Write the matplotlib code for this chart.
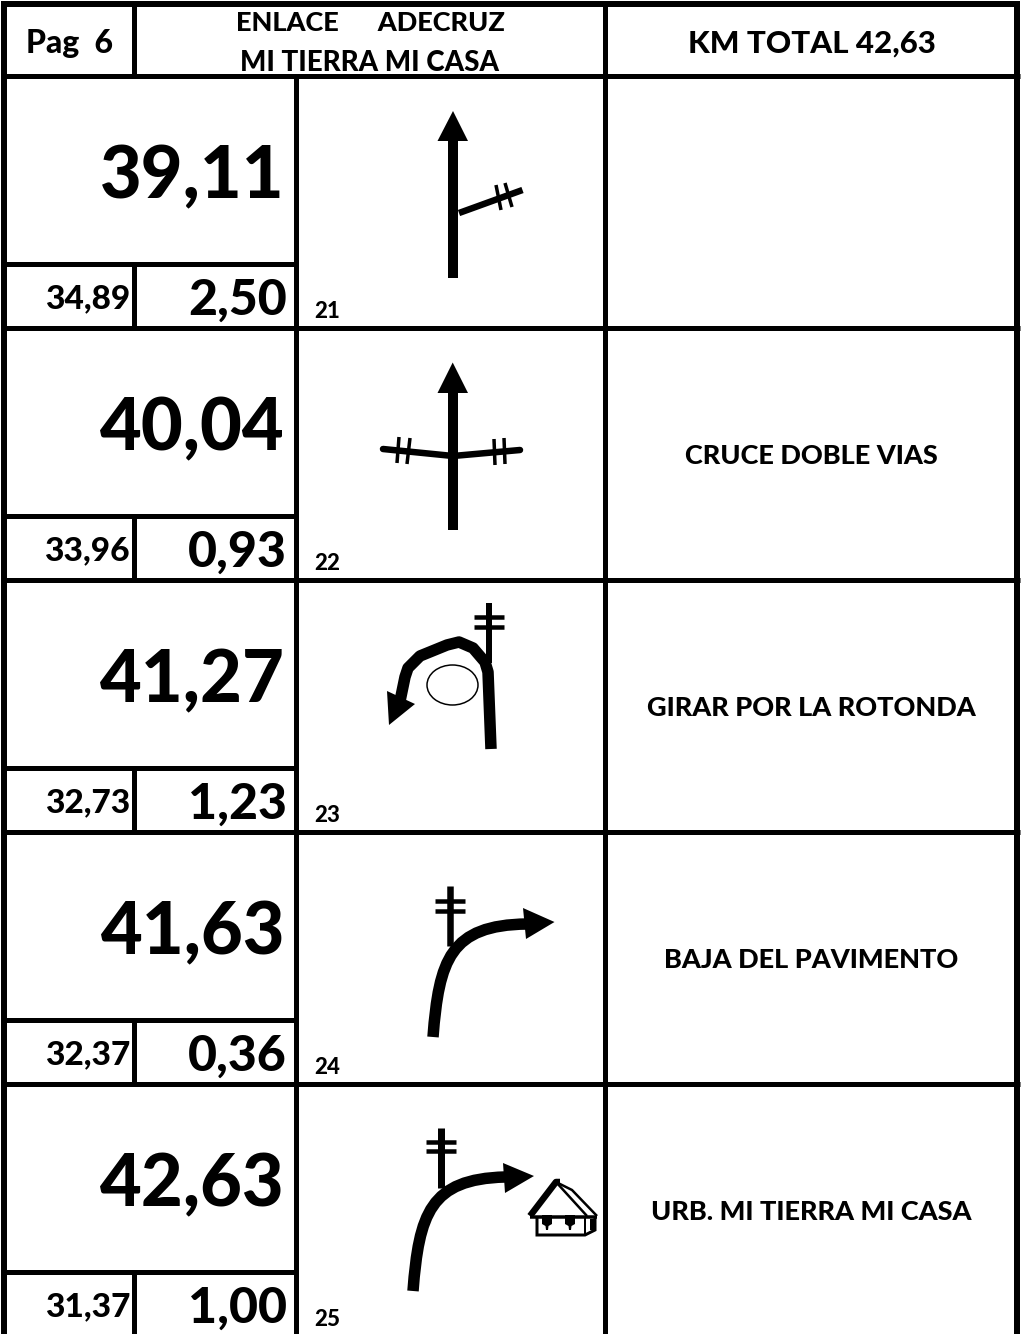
import matplotlib
matplotlib.use("Agg")
import matplotlib.pyplot as plt
from matplotlib.path import Path
from matplotlib.patches import PathPatch, Polygon, Ellipse

plt.rcParams['font.family'] = ['Lato', 'DejaVu Sans']

# ---- data ----
page_label = "Pag  6"
title_lines = ["ENLACE      ADECRUZ", "MI TIERRA MI CASA"]
total_label = "KM TOTAL 42,63"
km_totals = ["39,11", "40,04", "41,27", "41,63", "42,63"]
km_remaining = ["34,89", "33,96", "32,73", "32,37", "31,37"]
km_partial = ["2,50", "0,93", "1,23", "0,36", "1,00"]
step_numbers = ["21", "22", "23", "24", "25"]
descriptions = ["", "CRUCE DOBLE VIAS", "GIRAR POR LA ROTONDA",
                "BAJA DEL PAVIMENTO", "URB. MI TIERRA MI CASA"]

W, H = 1022, 1334
fig = plt.figure(figsize=(W / 100, H / 100), dpi=100, facecolor="white")
ax = fig.add_axes([0, 0, 1, 1])
ax.set_xlim(0, W)
ax.set_ylim(H, 0)
ax.axis("off")

PX = 72 / 100  # points per pixel
HEAVY = 900


def line(xs, ys, w, cap="butt", join="miter"):
    ax.plot(xs, ys, color="black", lw=w * PX, solid_capstyle=cap,
            solid_joinstyle=join, zorder=3)


def tri(pts):
    ax.add_patch(Polygon(pts, closed=True, fc="black", ec="none", zorder=4))


def curve(verts, codes, w):
    ax.add_patch(PathPatch(Path(verts, codes), fc="none", ec="black",
                           lw=w * PX, capstyle="butt", joinstyle="round", zorder=3))


def pole(x, y0, y1, bars, half=15, w=6):
    line([x, x], [y0, y1], w)
    for b in bars:
        line([x - half, x + half], [b, b], 4.5)


# ---- table grid ----
ROW0, ROW_H = 76, 252
GRID_W = 5
row_tops = [ROW0 + ROW_H * i for i in range(len(km_totals))]
line([1.5, 1019.5], [4, 4], 6)
line([4, 4], [1, H], 6)
line([1017, 1017], [1, H], 6)
line([605, 605], [1, H], GRID_W)
line([134, 134], [4, 76], GRID_W)
line([1.5, 1019.5], [76, 76], GRID_W)
for t in row_tops:
    line([1.5, 1019.5], [t + ROW_H, t + ROW_H], GRID_W)
    line([296, 296], [t, t + ROW_H], GRID_W)
    line([4, 296], [t + 188, t + 188], GRID_W)
    line([134, 134], [t + 188, t + ROW_H], GRID_W)

# ---- header ----
ax.text(70, 53, page_label, ha="center", va="baseline", fontsize=23, fontweight=HEAVY)
ax.text(370, 31, title_lines[0], ha="center", va="baseline", fontsize=19.5, fontweight=HEAVY)
ax.text(370, 71, title_lines[1], ha="center", va="baseline", fontsize=20, fontweight=HEAVY)
ax.text(812, 53, total_label, ha="center", va="baseline", fontsize=22.5, fontweight=HEAVY)

# ---- rows ----
for t, tot, rem, par, num, desc in zip(row_tops, km_totals, km_remaining,
                                       km_partial, step_numbers, descriptions):
    ax.text(285, t + 122, tot, ha="right", va="baseline", fontsize=52, fontweight=HEAVY)
    ax.text(130, t + 232, rem, ha="right", va="baseline", fontsize=24, fontweight=HEAVY)
    ax.text(287, t + 239, par, ha="right", va="baseline", fontsize=36, fontweight=HEAVY)
    ax.text(314, t + 242, num, ha="left", va="baseline", fontsize=16, fontweight=HEAVY)
    ax.text(811, t + 136, desc, ha="center", va="baseline", fontsize=19.5, fontweight=HEAVY)

# ---- step 21 ----
line([453, 453], [278, 140], 10)
tri([(453, 111), (437.5, 141), (468, 141)])
line([459, 522.5], [213, 190], 6.5)
line([496, 501], [185, 210], 3.5)
line([505, 512], [183, 207], 3.5)

# ---- step 22 ----
line([453, 453], [530, 391], 10)
tri([(452.7, 362.5), (437.5, 393), (468, 393)])
line([383, 453, 520], [449, 456, 450], 6.5, cap="round", join="round")
for x0, y0, x1, y1 in [(399, 437, 397, 463), (410, 438, 407, 464),
                       (494, 439, 495, 465), (504, 438, 505, 464)]:
    line([x0, x1], [y0, y1], 3.5)

# ---- step 23 ----
pole(488.5, 603, 663, [617, 627], w=6)
line([491, 488, 485, 473, 459, 447, 420, 408, 405, 399],
     [749, 672, 662, 648, 642, 645, 656, 668, 677, 706], 11.5, join="round")
tri([(387, 691), (415, 704), (389, 725)])
ax.add_patch(Ellipse((452.5, 685), 51, 40, fc="none", ec="black", lw=1.5 * PX, zorder=3))

# ---- step 24 ----
pole(450, 886, 946, [901, 911], w=6.5)
curve([(433, 1037), (439, 960), (450, 925), (527, 924)],
      [Path.MOVETO, Path.CURVE4, Path.CURVE4, Path.CURVE4], 11.5)
tri([(554.5, 922), (523, 908), (526, 939)])

# ---- step 25 ----
pole(441, 1128, 1188, [1142, 1151], w=7)
curve([(413, 1291), (419, 1214), (430, 1179), (505, 1177)],
      [Path.MOVETO, Path.CURVE4, Path.CURVE4, Path.CURVE4], 11.5)
tri([(534, 1176), (503, 1163), (505, 1193)])

# house pictogram
line([530, 556, 560], [1216, 1182, 1182], 6.5, join="round")
line([556, 572, 597], [1182, 1190, 1216], 2.5)
line([556, 587], [1182, 1216], 2.5)
line([530, 597], [1217, 1217], 3.5)
line([537, 537, 585, 595, 595], [1216, 1235, 1235, 1230, 1217], 3)
line([585, 585], [1217, 1235], 2)
for wx in (547, 570):
    ax.add_patch(Polygon([(wx - 5, 1215), (wx + 5, 1215), (wx + 5, 1224), (wx + 1.5, 1226),
                          (wx + 1, 1230), (wx - 1, 1230), (wx - 1.5, 1226), (wx - 5, 1224)],
                         closed=True, fc="black", ec="none", zorder=4))
line([592, 592], [1219, 1230], 4)

fig.savefig("out.png", dpi=100)
